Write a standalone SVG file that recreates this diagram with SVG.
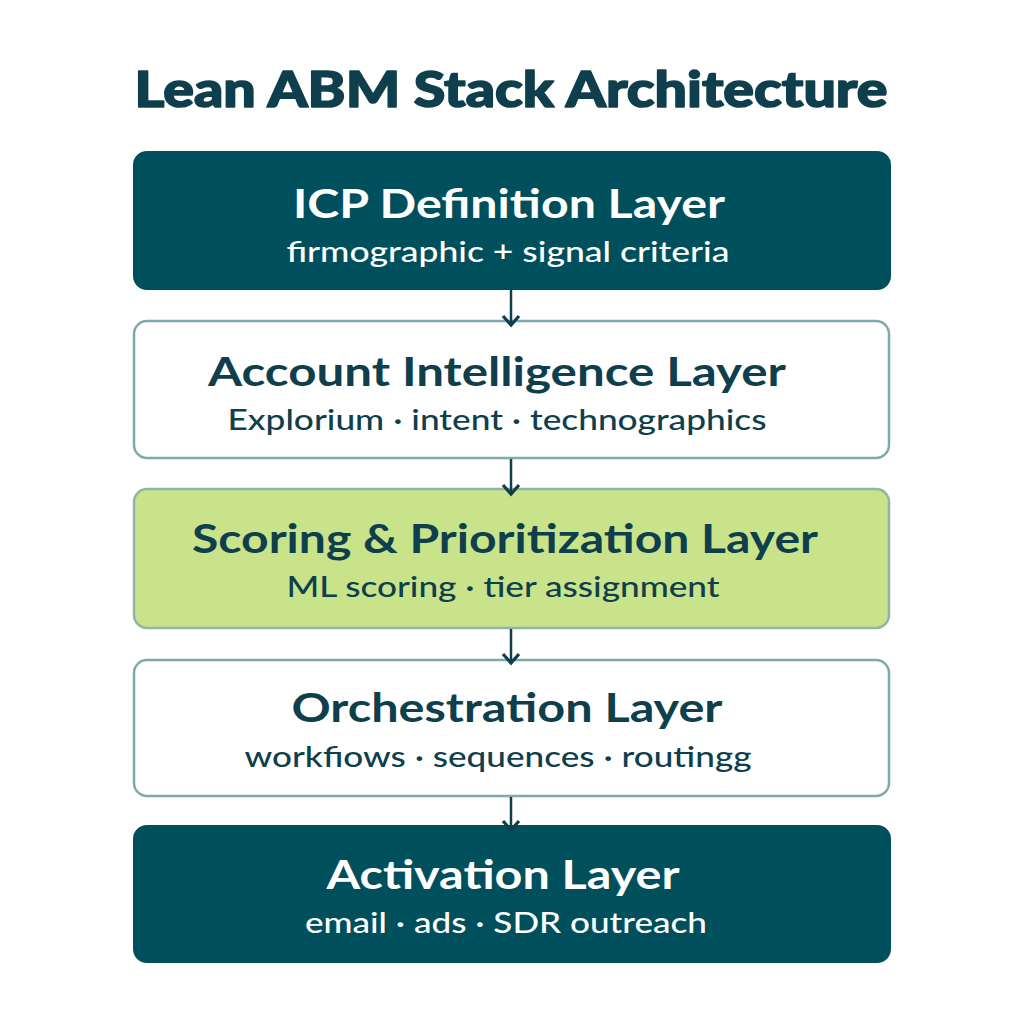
<svg xmlns="http://www.w3.org/2000/svg" width="1024" height="1024" viewBox="0 0 1024 1024">
<defs>
<style>
.title{font-family:Lato,"Open Sans","Liberation Sans",sans-serif;font-weight:900;font-size:50px;fill:#0f3f4c;stroke:#0f3f4c;stroke-width:1.6;stroke-linejoin:round;text-anchor:middle}
.dark{fill:#004f5c;stroke:#004f5c;stroke-width:2}
.light{fill:#ffffff;stroke:#7fa9ad;stroke-width:2.5}
.green{fill:#c9e38a;stroke:#8fb5a8;stroke-width:2.5}
.h{font-family:Lato,"Open Sans","Liberation Sans",sans-serif;font-weight:700;font-size:40px;text-anchor:middle}
.s{font-family:Lato,"Open Sans","Liberation Sans",sans-serif;font-weight:500;font-size:28px;text-anchor:middle}
.onDark{fill:#ffffff}
.onLight{fill:#0f3f4c}
.conn{stroke:#0f3f4c;stroke-width:2.5;fill:none}
</style>
<marker id="arr" viewBox="0 0 20 20" refX="16" refY="10" markerWidth="20" markerHeight="20" markerUnits="userSpaceOnUse" orient="auto">
<path d="M7,2 L16,10 L7,18" fill="none" stroke="#0f3f4c" stroke-width="3.2" stroke-linejoin="miter"/>
</marker>
</defs>
<rect width="1024" height="1024" fill="#ffffff"/>
<text class="title" x="511" y="107" textLength="753" lengthAdjust="spacingAndGlyphs">Lean ABM Stack Architecture</text>
<g id="icp">
<rect class="dark" x="134" y="152" width="756" height="137" rx="13"/>
<text class="h onDark" x="509" y="218" textLength="432" lengthAdjust="spacingAndGlyphs">ICP Definition Layer</text>
<text class="s onDark" x="508" y="262" textLength="443" lengthAdjust="spacingAndGlyphs">firmographic + signal criteria</text>
</g>
<g id="intel">
<rect class="light" x="134" y="321" width="755" height="137" rx="13"/>
<text class="h onLight" x="497" y="386" textLength="578" lengthAdjust="spacingAndGlyphs">Account Intelligence Layer</text>
<text class="s onLight" x="497" y="430" textLength="539" lengthAdjust="spacingAndGlyphs">Explorium · intent · technographics</text>
</g>
<g id="scoring">
<rect class="green" x="134" y="489" width="755" height="139" rx="13"/>
<text class="h onLight" x="505" y="553" textLength="626" lengthAdjust="spacingAndGlyphs">Scoring &amp; Prioritization Layer</text>
<text class="s onLight" x="503" y="597" textLength="433" lengthAdjust="spacingAndGlyphs">ML scoring · tier assignment</text>
</g>
<g id="orch">
<rect class="light" x="134" y="660" width="755" height="136" rx="13"/>
<text class="h onLight" x="507" y="722" textLength="431" lengthAdjust="spacingAndGlyphs">Orchestration Layer</text>
<text class="s onLight" x="498" y="767" textLength="507" lengthAdjust="spacingAndGlyphs">workfiows · sequences · routingg</text>
</g>
<g id="activation">
<rect class="dark" x="134" y="826" width="756" height="136" rx="13"/>
<text class="h onDark" x="503" y="889" textLength="353" lengthAdjust="spacingAndGlyphs">Activation Layer</text>
<text class="s onDark" x="506" y="933" textLength="402" lengthAdjust="spacingAndGlyphs">email · ads · SDR outreach</text>
</g>
<g id="connectors">
<line class="conn" x1="511" y1="290" x2="511" y2="325" marker-end="url(#arr)"/>
<line class="conn" x1="511" y1="459" x2="511" y2="494" marker-end="url(#arr)"/>
<line class="conn" x1="511" y1="629" x2="511" y2="663" marker-end="url(#arr)"/>
<line class="conn" x1="511" y1="797" x2="511" y2="830" marker-end="url(#arr)"/>
</g>
</svg>
